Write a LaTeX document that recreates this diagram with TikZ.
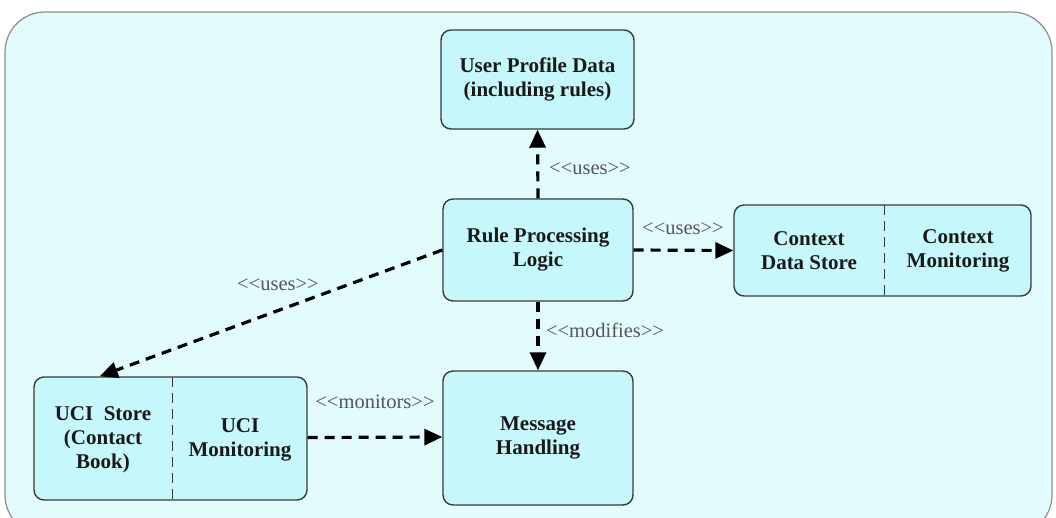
\documentclass[tikz,border=0pt]{standalone}
\usepackage{fontspec}
\setmainfont[Ligatures=NoCommon]{Liberation Serif}
\usetikzlibrary{arrows.meta,calc}
\definecolor{bgfill}{HTML}{E2FCFD}
\definecolor{boxfill}{HTML}{C6F7FA}
\definecolor{boxline}{HTML}{3A3A3A}
\definecolor{lbl}{HTML}{555555}
\newcommand{\stereo}[1]{{<}{<}#1{>}{>}}
\tikzset{
  box/.style={draw=boxline, line width=1.4pt, fill=boxfill, rounded corners=10pt, inner sep=0pt},
  btxt/.style={font=\fontsize{21}{24}\selectfont\bfseries, text=black!90, align=center},
  lab/.style={font=\fontsize{20.5}{22}\selectfont, text=lbl},
  dep/.style={line width=3.2pt, dash pattern=on 10pt off 7pt, -{Triangle[length=18pt,width=16pt]}},
  divider/.style={draw=boxline, line width=1pt, dash pattern=on 10pt off 6pt}
}
\begin{document}
\begin{tikzpicture}[x=1pt,y=-1pt]
\useasboundingbox (0,0) rectangle (1056,517);
\begin{scope}
\clip (0,0) rectangle (1056,517);
\draw[draw=black!45, line width=1.2pt, fill=bgfill, rounded corners=40pt] (5,12) rectangle (1052,535);
\end{scope}
% boxes
\node[box, minimum width=193pt, minimum height=99pt] (up) at (537.5,79.5) {};
\node[btxt] at (up.center) {User Profile Data\\(including rules)};
\node[box, minimum width=190pt, minimum height=102pt] (rule) at (538,250) {};
\node[btxt] at (rule.center) {Rule Processing\\Logic};
\node[box, minimum width=297pt, minimum height=91pt] (ctx) at (882.5,250.5) {};
\node[btxt] (ctxa) at (809,250.5) {Context\\Data Store};
\node[btxt] (ctxb) at (958,250.5) {Context\\Monitoring};
\node[box, minimum width=190pt, minimum height=134pt] (msg) at (538,438) {};
\node[btxt] at (msg.center) {Message\\Handling};
\node[box, minimum width=273pt, minimum height=123pt] (uci) at (170.5,438.5) {};
\node[btxt] (ucia) at (103,440) {UCI\ \ Store\\(Contact\\Book)};
\node[btxt] (ucib) at (240,440) {UCI\\Monitoring};
% dividers
\draw[divider] (884,205) -- (884,296);
\draw[divider] (172,377) -- (172,500);
% connectors
\coordinate (ucitop) at ($(uci.north west)!0.242!(uci.north east)$);
\draw[dep] (rule.north) -- (up.south);
\draw[dep] (rule.east) -- (ctx.west);
\draw[dep] (rule.west) -- (ucitop);
\draw[dep] (rule.south) -- (msg.north);
\draw[dep] ($(uci.east)+(0,-1)$) -- ($(msg.west)+(0,-1)$);
% labels
\node[lab] at (590,169) {\stereo{uses}};
\node[lab] at (683,229) {\stereo{uses}};
\node[lab] at (278,285) {\stereo{uses}};
\node[lab] at (605,330) {\stereo{modifies}};
\node[lab] at (375,402) {\stereo{monitors}};
\end{tikzpicture}
\end{document}
